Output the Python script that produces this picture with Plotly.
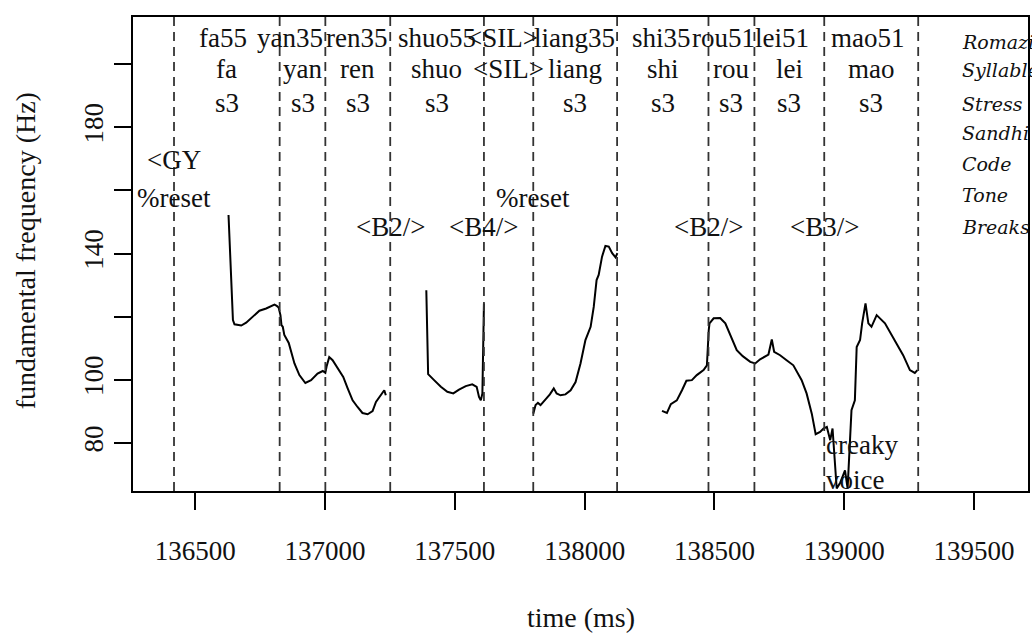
import plotly.graph_objects as go

# ---------------- data ----------------
# F0 contour segments (time in ms, F0 in Hz)
seg1_t = [136628, 136645, 136651, 136677, 136696, 136721, 136747, 136773, 136792, 136805,
          136814, 136821, 136828, 136832, 136837, 136843, 136860, 136869, 136882, 136901,
          136924, 136946, 136971, 136991, 137001, 137006, 137016, 137029, 137048, 137070,
          137087, 137106, 137125, 137144, 137164, 137183, 137196, 137215, 137228, 137234]
seg1_f0 = [152.2, 118.9, 117.6, 117.2, 118.1, 120.0, 121.9, 122.6, 123.4, 123.8,
           123.4, 122.9, 120.5, 117.3, 116.8, 114.2, 111.7, 108.9, 105.2, 101.5,
           99.0, 99.9, 102.0, 102.8, 102.2, 104.3, 107.2, 106.2, 103.6, 100.9,
           97.3, 93.5, 91.4, 89.5, 89.1, 90.1, 93.0, 95.1, 96.7, 95.1]

seg2_t = [137390, 137397, 137420, 137446, 137471, 137494, 137516, 137542, 137567, 137584,
          137593, 137600, 137606, 137612]
seg2_f0 = [128.4, 101.8, 99.9, 97.8, 96.2, 95.7, 96.9, 98.0, 98.6, 97.8,
           94.6, 93.5, 95.7, 124.2]

seg3_t = [137802, 137811, 137820, 137830, 137846, 137866, 137881, 137892, 137907, 137926,
          137946, 137965, 137984, 138003, 138023, 138035, 138046, 138054, 138067, 138080,
          138093, 138106, 138119, 138126]
seg3_f0 = [89.3, 92.0, 92.7, 92.0, 93.5, 95.4, 97.3, 95.7, 95.1, 95.4,
           96.7, 99.3, 105.2, 112.6, 116.8, 123.1, 131.6, 133.2, 139.0, 142.4,
           142.2, 140.1, 138.8, 140.1]

seg4_t = [138298, 138317, 138332, 138355, 138375, 138392, 138413, 138432, 138458, 138471,
          138478, 138481, 138497, 138522, 138542, 138563, 138586, 138609, 138638, 138657,
          138676, 138708, 138721, 138730, 138753, 138778, 138804, 138836, 138855, 138875,
          138890, 138907, 138920, 138933, 138946, 138955, 138971, 138985, 139003, 139013,
          139028, 139041, 139048, 139061, 139069, 139082, 139093, 139105, 139125, 139157,
          139195, 139227, 139253, 139272, 139282]
seg4_f0 = [90.2, 89.5, 92.3, 93.5, 96.7, 99.7, 99.9, 101.5, 103.1, 104.6,
           115.7, 117.9, 119.5, 119.6, 117.9, 113.6, 109.4, 107.5, 105.7, 105.2,
           106.5, 108.0, 112.8, 108.9, 107.8, 106.2, 104.6, 99.9, 95.7, 89.3,
           82.8, 83.5, 84.6, 85.1, 80.9, 84.6, 65.6, 67.5, 71.3, 65.6,
           90.4, 93.5, 110.4, 112.6, 117.9, 124.2, 117.9, 116.8, 120.5, 117.9,
           112.6, 107.8, 103.1, 102.2, 103.1]

# syllable boundaries (ms)
boundaries = [136418, 136825, 137001, 137251, 137612, 137802, 138125, 138477, 138654, 138923, 139285]

# tier: romanization (label, centre ms)
roman_labels = ["fa55", "yan35", "ren35", "shuo55", "<SIL>", "liang35", "shi35", "rou51", "lei51", "mao51"]
roman_pos = [136606, 136863, 137122, 137432, 137683, 137962, 138295, 138535, 138762, 139093]

# tier: syllable
syll_labels = ["fa", "yan", "ren", "shuo", "<SIL>", "liang", "shi", "rou", "lei", "mao"]
syll_pos = [136621, 136913, 137126, 137431, 137707, 137963, 138301, 138565, 138788, 139104]

# tier: stress
stress_labels = ["s3", "s3", "s3", "s3", "s3", "s3", "s3", "s3", "s3"]
stress_pos = [136621, 136913, 137126, 137431, 137963, 138301, 138565, 138788, 139104]

# tier: code / tone / breaks
code_labels = ["<GY"]
code_pos = [136418]
tone_labels = ["%reset", "%reset"]
tone_pos = [136418, 137802]
break_labels = ["<B2/>", "<B4/>", "<B2/>", "<B3/>"]
break_pos = [137251, 137612, 138477, 138923]

# tier rows (Hz) for the labels, and tier names with their own rows
tier_rows = [208.3, 198.4, 187.6, 178.3, 169.7, 157.5, 148.5]
tier_names = ["Romazi", "Syllable", "Stress", "Sandhi", "Code", "Tone", "Breaks"]
name_rows = [207.0, 198.1, 187.3, 178.3, 168.4, 158.6, 148.5]

note_lines = ["creaky", "voice"]
note_pos = 138923
note_rows = [79.3, 68.2]

x_ticks = [136500, 137000, 137500, 138000, 138500, 139000, 139500]
y_ticks = [80, 100, 120, 140, 160, 180, 200]
y_tick_text = ["80", "100", "", "140", "", "180", ""]

X_RANGE = [136260, 139708]
Y_RANGE = [64.8, 214.9]

SERIF = "Liberation Serif"
TXT = "#111111"

FIG_W, FIG_H = 1032, 633
M_L, M_R, M_T, M_B = 133, 2, 17, 142
PW = FIG_W - M_L - M_R
PH = FIG_H - M_T - M_B

# ---------------- figure ----------------
fig = go.Figure()
for t, f in [(seg1_t, seg1_f0), (seg2_t, seg2_f0), (seg3_t, seg3_f0), (seg4_t, seg4_f0)]:
    fig.add_trace(go.Scatter(x=t, y=f, mode="lines",
                             line=dict(color="black", width=2), showlegend=False,
                             hoverinfo="skip"))

for b in boundaries:
    fig.add_shape(type="line", xref="x", yref="paper", x0=b, x1=b, y0=0, y1=1,
                  line=dict(color="#333333", width=1.8, dash="9px,6px"))

ann = []
def esc(s):
    return s.replace("<", "&lt;").replace(">", "&gt;")

def add_tier(labels, pos, row):
    for lab, p in zip(labels, pos):
        ann.append(dict(x=p, y=row, xref="x", yref="y", text=esc(lab),
                        showarrow=False, xanchor="center", yanchor="middle",
                        font=dict(family=SERIF, size=27, color=TXT)))

add_tier(roman_labels, roman_pos, tier_rows[0])
add_tier(syll_labels, syll_pos, tier_rows[1])
add_tier(stress_labels, stress_pos, tier_rows[2])
add_tier(code_labels, code_pos, tier_rows[4])
add_tier(tone_labels, tone_pos, tier_rows[5])
add_tier(break_labels, break_pos, tier_rows[6])

# right-hand tier names (page x ~ 962)
for name, row in zip(tier_names, name_rows):
    ann.append(dict(x=(962 - M_L) / PW, y=row, xref="paper", yref="y", text="<i>" + name + "</i>",
                    showarrow=False, xanchor="left", yanchor="middle",
                    font=dict(family="DejaVu Serif", size=19, color=TXT)))

for lab, row in zip(note_lines, note_rows):
    ann.append(dict(x=note_pos, y=row, xref="x", yref="y", text=lab,
                    showarrow=False, xanchor="left", yanchor="middle",
                    font=dict(family=SERIF, size=27, color=TXT)))

# axis titles (page pixel targets)
ann.append(dict(x=0.5, y=(491 - 617) / PH, xref="paper", yref="paper", text="time (ms)",
                showarrow=False, xanchor="center", yanchor="middle",
                font=dict(family=SERIF, size=28, color=TXT)))
ann.append(dict(x=(26 - M_L) / PW, y=(491 - 251) / PH, xref="paper", yref="paper",
                text="fundamental frequency (Hz)", textangle=-90,
                showarrow=False, xanchor="center", yanchor="middle",
                font=dict(family=SERIF, size=28, color=TXT)))

fig.update_layout(
    width=FIG_W, height=FIG_H,
    margin=dict(l=M_L, r=M_R, t=M_T, b=M_B),
    paper_bgcolor="white", plot_bgcolor="white",
    annotations=ann,
    xaxis=dict(range=X_RANGE, tickvals=x_ticks, ticktext=[str(v) for v in x_ticks],
               showgrid=False, zeroline=False, showline=True, mirror=True,
               linecolor="black", linewidth=1.5, ticks="outside", ticklen=17,
               tickwidth=1.5, tickcolor="black", ticklabelstandoff=18,
               tickfont=dict(family=SERIF, size=27, color=TXT)),
    yaxis=dict(range=Y_RANGE, tickvals=y_ticks, ticktext=y_tick_text,
               showgrid=False, zeroline=False, showline=True, mirror=True,
               linecolor="black", linewidth=1.5, ticks="outside", ticklen=17,
               tickwidth=1.5, tickcolor="black", tickangle=-90, ticklabelstandoff=0,
               tickfont=dict(family=SERIF, size=27, color=TXT)),
)

fig.write_html("out.html", config={"displayModeBar": False},
               post_script="document.body.style.margin='0';document.body.style.overflow='hidden';")
